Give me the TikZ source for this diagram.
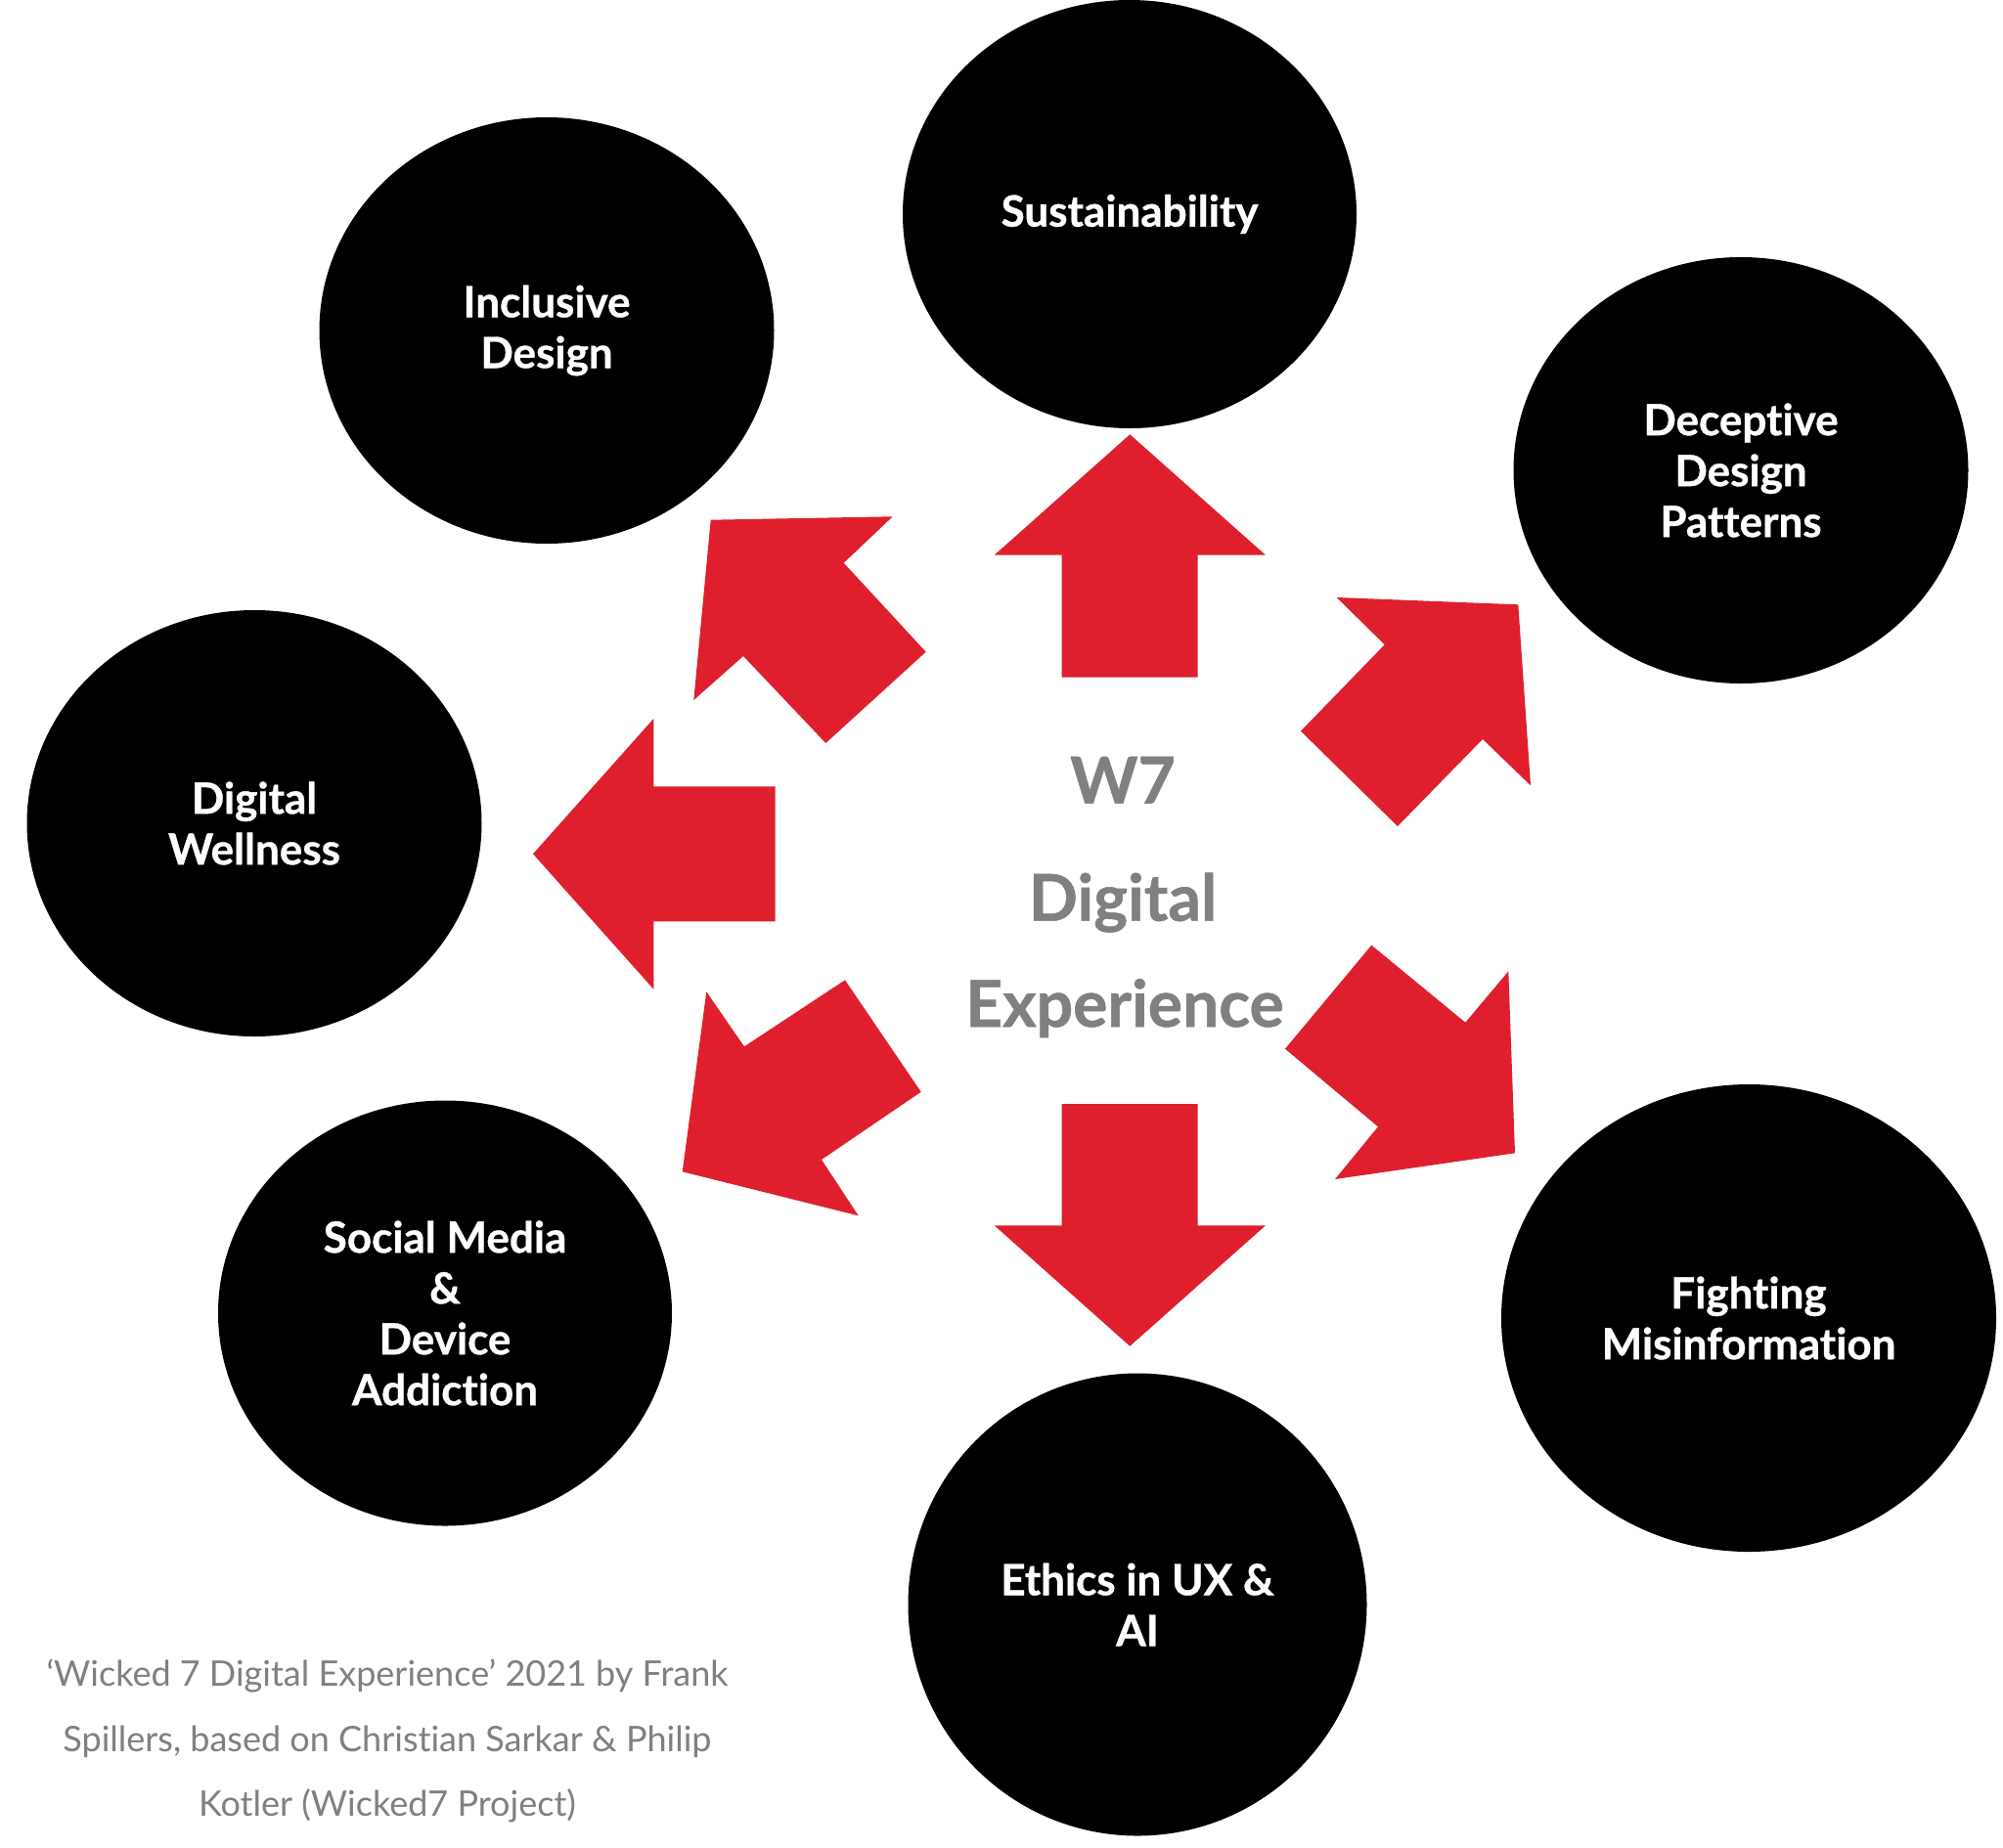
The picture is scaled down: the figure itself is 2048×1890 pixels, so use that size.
\documentclass[tikz,border=0pt]{standalone}
\usepackage{fontspec}
\setmainfont{Lato}[Ligatures=NoCommon, BoldFeatures={FakeBold=0.8}]
\usetikzlibrary{shapes.geometric}
\definecolor{w7red}{RGB}{223,31,45}
\definecolor{w7gray}{RGB}{128,128,128}
\begin{document}
\begin{tikzpicture}[x=1pt,y=-1pt,
  topic/.style={ellipse, fill=black, inner sep=0pt, text=white, align=center,
    font=\fontsize{44}{52}\selectfont\bfseries},
  bigarrow/.style={fill=w7red, draw=none},
  hub/.style={text=w7gray, inner sep=0pt, anchor=base,
    font=\fontsize{66}{80}\selectfont\bfseries},
  credit/.style={text=w7gray, inner sep=0pt, align=center,
    font=\fontsize{36}{66.5}\selectfont}]
\useasboundingbox (0,0) rectangle (2048,1890);
\fill[white] (0,0) rectangle (2048,1890);

% topic circles
\node[topic, minimum width=464pt, minimum height=438pt] (sus) at (1155,219) {Sustainability};
\node[topic, minimum width=465pt, minimum height=436pt] (inc) at (559,338) {Inclusive\\Design};
\node[topic, minimum width=465pt, minimum height=436pt] (dec) at (1780,481) {Deceptive\\Design\\Patterns};
\node[topic, minimum width=465pt, minimum height=436pt] (dwl) at (260,842) {Digital\\Wellness};
\node[topic, minimum width=464pt, minimum height=435pt] (soc) at (455,1343) {Social Media\\\&\\Device\\Addiction};
\node[topic, minimum width=469pt, minimum height=473pt] (eth) at (1163,1641) {Ethics in UX \&\\AI};
\node[topic, minimum width=506pt, minimum height=478pt] (fig) at (1788,1348) {Fighting\\Misinformation};

% block arrows
\fill[bigarrow] (1155.3,444.3) -- (1294,567.7) -- (1224.7,567.7) -- (1224.7,692.7) -- (1085.7,692.7) -- (1085.7,567.7) -- (1016.7,567.7) -- cycle;
\fill[bigarrow] (1085.7,1129) -- (1224.7,1129) -- (1224.7,1253.3) -- (1294,1253.3) -- (1155.3,1376.7) -- (1016.7,1253.3) -- (1085.7,1253.3) -- cycle;
\fill[bigarrow] (545,873.3) -- (668.3,735) -- (668.3,804.3) -- (792.7,804.3) -- (792.7,942.3) -- (668.3,942.3) -- (668.3,1011.7) -- cycle;
\fill[bigarrow] (726.7,531.7) -- (912.7,528.3) -- (862.7,575.7) -- (946.7,666.7) -- (844.3,760) -- (760,671) -- (709.3,716) -- cycle;
\fill[bigarrow] (1366.7,611) -- (1552.3,618.3) -- (1565,803.3) -- (1516,756) -- (1429,845) -- (1330,747.7) -- (1415.7,659.3) -- cycle;
\fill[bigarrow] (722.3,1014.3) -- (761,1070.3) -- (864,1002.3) -- (941.7,1116.7) -- (840,1186) -- (877.7,1243.3) -- (697.7,1198.3) -- cycle;
\fill[bigarrow] (1402.3,966.7) -- (1498.3,1045.7) -- (1542.3,993.3) -- (1549,1179.3) -- (1365,1206) -- (1409,1152.3) -- (1314,1072.7) -- cycle;

% centre title
\node[hub] (hubA) at (1148,821.7) {W7};
\node[hub] (hubB) at (1148,941.7) {Digital};
\node[hub] (hubC) at (1150,1050) {Experience};

% credit
\node[credit] (cred) at (396,1780.5) {‘Wicked 7 Digital Experience’ 2021 by Frank\\Spillers, based on Christian Sarkar \& Philip\\Kotler (Wicked7 Project)};
\end{tikzpicture}
\end{document}
